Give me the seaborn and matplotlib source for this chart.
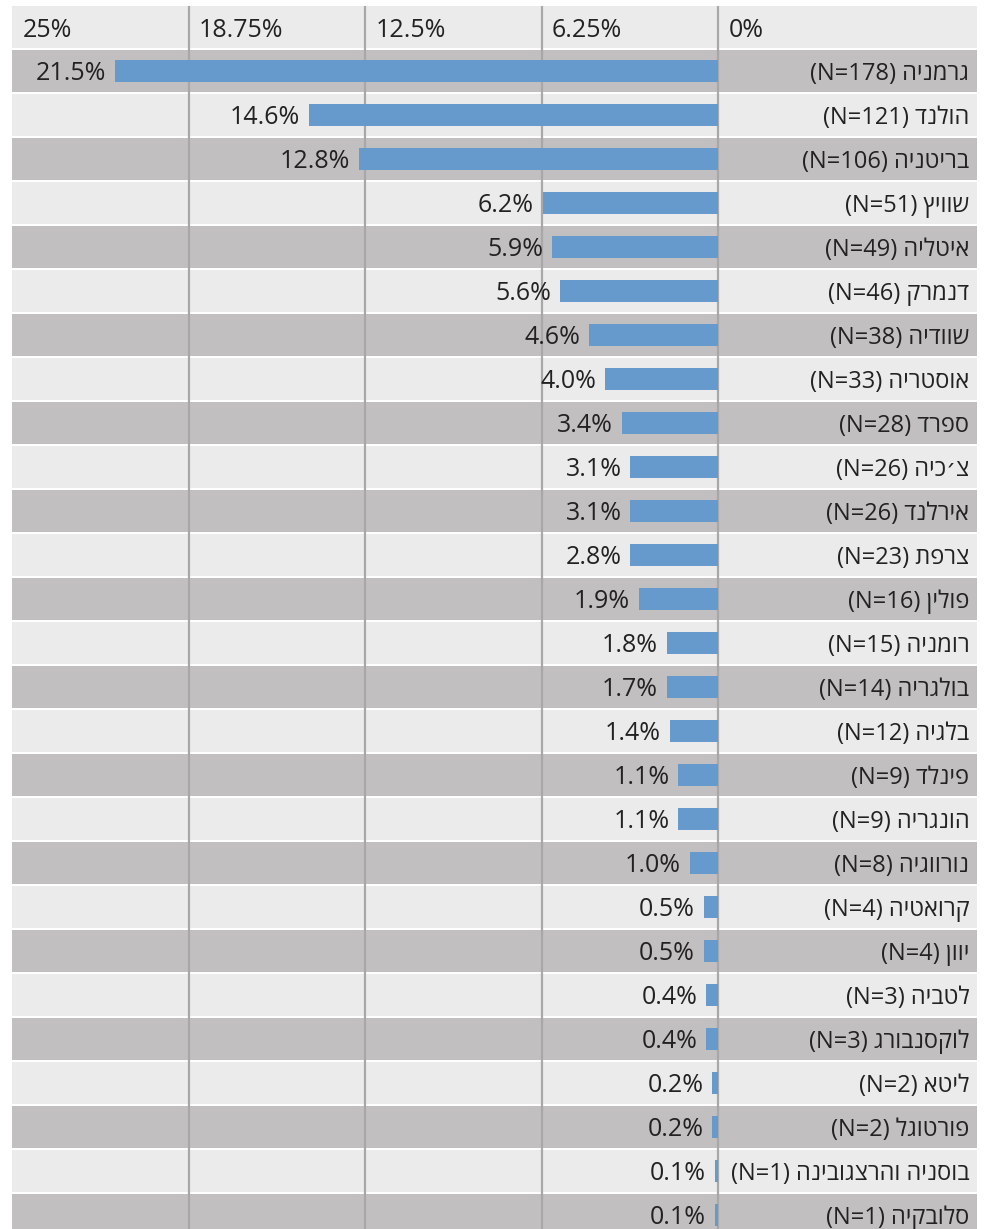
import matplotlib
matplotlib.use('Agg')
import matplotlib.pyplot as plt
import seaborn as sns
import pandas as pd

plt.rcParams['font.family'] = ['Open Sans', 'DejaVu Sans']

# נתונים
countries = ["גרמניה", "הולנד", "בריטניה", "שוויץ", "איטליה", "דנמרק", "שוודיה",
             "אוסטריה", "ספרד", "צ׳כיה", "אירלנד", "צרפת", "פולין", "רומניה",
             "בולגריה", "בלגיה", "פינלד", "הונגריה", "נורווגיה", "קרואטיה", "יוון",
             "לטביה", "לוקסנבורג", "ליטא", "פורטוגל", "בוסניה והרצגובינה", "סלובקיה"]
counts = [178, 121, 106, 51, 49, 46, 38, 33, 28, 26, 26, 23, 16, 15, 14, 12, 9, 9, 8,
          4, 4, 3, 3, 2, 2, 1, 1]
pct_labels = ["21.5%", "14.6%", "12.8%", "6.2%", "5.9%", "5.6%", "4.6%", "4.0%", "3.4%",
              "3.1%", "3.1%", "2.8%", "1.9%", "1.8%", "1.7%", "1.4%", "1.1%", "1.1%",
              "1.0%", "0.5%", "0.5%", "0.4%", "0.4%", "0.2%", "0.2%", "0.1%", "0.1%"]
# bar lengths as drawn in the picture
bar_values = [21.35, 14.5, 12.7, 6.2, 5.88, 5.6, 4.57, 4.0, 3.4, 3.1, 3.1, 3.1, 2.8,
              1.8, 1.8, 1.7, 1.4, 1.4, 1.0, 0.5, 0.5, 0.42, 0.42, 0.2, 0.2, 0.1, 0.1]
ticks = [25, 18.75, 12.5, 6.25, 0]
tick_labels = ["25%", "18.75%", "12.5%", "6.25%", "0%"]

# matplotlib has no bidi: build the visual (left-to-right) order by hand
display = [f"(N={n}) " + c[::-1] for c, n in zip(countries, counts)]
df = pd.DataFrame({"country": display, "value": bar_values})

fig = plt.figure(figsize=(9.84, 12.29), dpi=100)
ax = fig.add_axes([12 / 984, -8 / 1229, 965 / 984, 1232 / 1229])

sns.barplot(data=df, x="value", y="country", orient="h", color="#6699cc",
            saturation=1, width=0.48, ax=ax, zorder=3)

ax.set_xlim(25, -9.17)
ax.set_ylim(26.5, -1.5)

# row bands
for i in range(-1, len(countries)):
    col = "#c1bfc0" if i % 2 == 0 else "#ebebeb"
    ax.axhspan(i - 0.47, i + 0.47, color=col, zorder=0, lw=0)

ax.vlines(ticks[1:], -1.47, 26.8, colors="#a8a8a8", lw=1.6, zorder=2)

txt = "#222222"
for t, lab in zip(ticks, tick_labels):
    ax.annotate(lab, (t, -1), xytext=(7.5, -7.2), textcoords="offset points",
                ha="left", va="baseline", fontsize=18, color=txt)

for i, (v, lab) in enumerate(zip(bar_values, pct_labels)):
    ax.annotate(lab, (v, i), xytext=(-6.5, -6.6), textcoords="offset points",
                ha="right", va="baseline", fontsize=18, color=txt)

for i, lab in enumerate(display):
    ax.annotate(lab, (1, i), xycoords=("axes fraction", "data"), xytext=(-5.5, -6.8),
                textcoords="offset points", ha="right", va="baseline", fontsize=17,
                color=txt)

ax.set_axis_off()
fig.savefig("out.png", dpi=100, facecolor="white")
